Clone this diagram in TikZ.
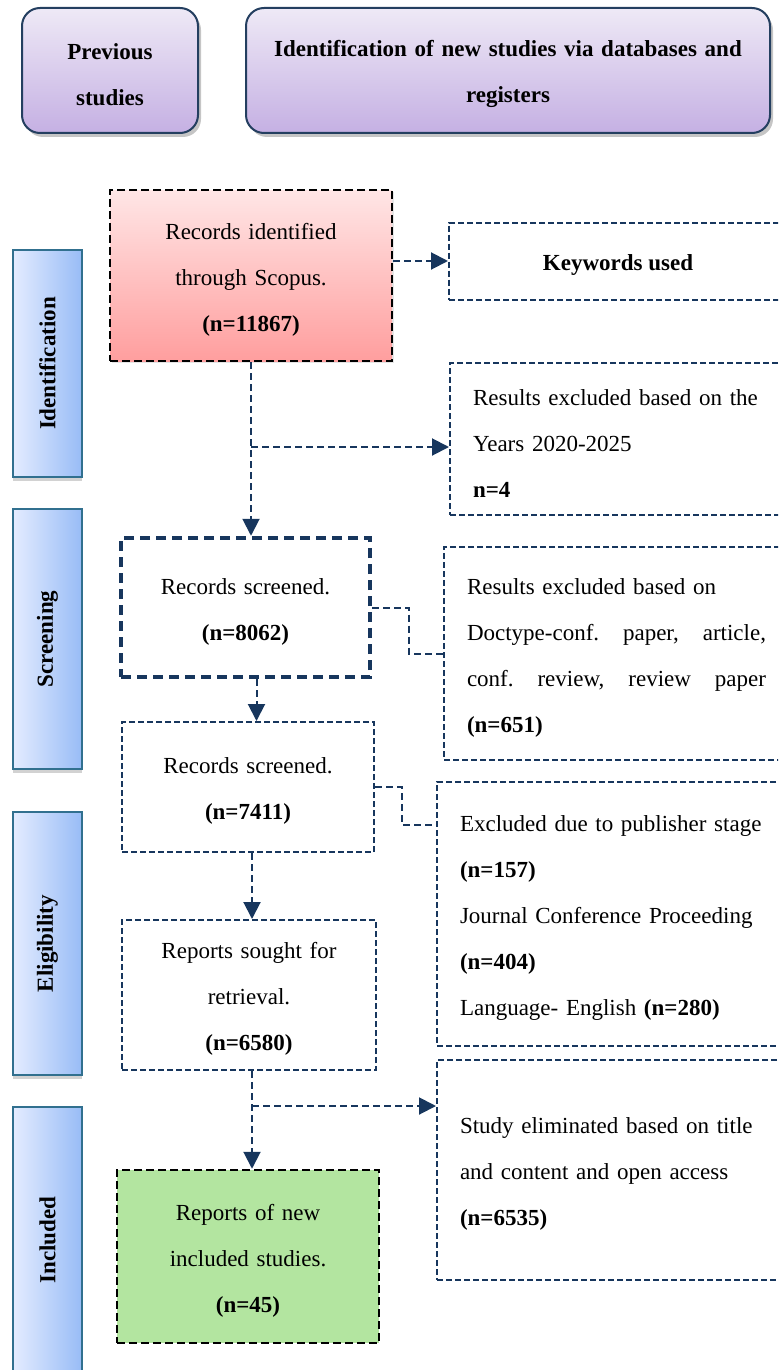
\documentclass[tikz,border=0pt]{standalone}
\usepackage{fontspec}
\setmainfont{Liberation Serif}
\usetikzlibrary{arrows.meta,shadows}
\definecolor{navy}{HTML}{17365D}
\definecolor{barline}{HTML}{31708F}
\definecolor{barleft}{HTML}{E4ECFF}
\definecolor{barright}{HTML}{98BCF6}
\definecolor{headline}{HTML}{243F60}
\definecolor{headtop}{HTML}{EEE9F6}
\definecolor{headbot}{HTML}{C5B0E3}
\definecolor{srctop}{HTML}{FFE6E6}
\definecolor{srcbot}{HTML}{FF9E9E}
\definecolor{keptfill}{HTML}{B3E5A0}
\begin{document}
\begin{tikzpicture}[x=0.5pt,y=-0.5pt]
\tikzset{ every node/.style={font={\fontsize{11.5}{23}\selectfont}, inner sep=0pt, align=center}}
\tikzstyle{lower}=[execute at begin node={\rule{0pt}{12pt}}]
\tikzstyle{head}=[lower, draw=headline, line width=1pt, rounded corners=9pt, top color=headtop, bottom color=headbot, font={\bfseries\fontsize{11.5}{23}\selectfont}, minimum height=62.5pt, drop shadow={shadow xshift=1.5pt, shadow yshift=-2pt, fill=black!45}]
\tikzstyle{phase}=[draw=barline, line width=1pt, rotate=90, left color=barleft, right color=barright, font={\bfseries\fontsize{11.5}{23}\selectfont}, minimum height=34.5pt, drop shadow={shadow xshift=0pt, shadow yshift=-2pt, fill=black!35}]
\tikzstyle{box}=[lower, draw=navy, line width=1pt, dash pattern=on 3pt off 1.5pt, fill=white]
\tikzstyle{bigbox}=[box, line width=2.25pt, dash pattern=on 5pt off 3pt]
\tikzstyle{note}=[box, anchor=west, align=left, inner xsep=11.5pt]
\tikzstyle{src}=[lower, draw=black, line width=1.25pt, dash pattern=on 4pt off 2pt, top color=srctop, bottom color=srcbot, drop shadow={shadow xshift=1pt, shadow yshift=-1pt, fill=black!20}]
\tikzstyle{kept}=[lower, draw=black, line width=1.25pt, dash pattern=on 4pt off 2pt, fill=keptfill]
\tikzstyle{link}=[draw=navy, line width=1pt, dash pattern=on 3.5pt off 2pt]
\tikzstyle{arr}=[link, -{Triangle[length=8.5pt,width=8.5pt]}]
\useasboundingbox (0,0) rectangle (778,1370);
\clip (0,0) rectangle (778,1370);
% headers
\node[head, text width=88pt] (prev) at (110,70.5) {Previous\\studies};
\node[head, text width=262pt] (newst) at (508,70.5) {Identification of new studies via databases and\\registers};
% phases
\node[phase, minimum width=113.5pt] (idph) at (47.5,363.5) {Identification};
\node[phase, minimum width=130pt] (scph) at (47.5,639) {Screening};
\node[phase, minimum width=131.5pt] (elph) at (47.5,943.5) {Eligibility};
\node[phase, minimum width=133pt] (inph) at (47.5,1240) {Included};
% boxes
\node[src, text width=141pt, minimum height=85.5pt] (rec) at (251,275.5) {Records identified\\through Scopus.\\\textbf{(n=11867)}};
\node[box, minimum width=169pt, minimum height=38.5pt, font={\bfseries\fontsize{11.5}{23}\selectfont}] (kw) at (618,261) {Keywords used};
\node[note, text width=151.5pt, minimum height=76pt] (yrs) at (449,439) {Results excluded based on the\\Years 2020-2025\\\textbf{n=4}};
\node[bigbox, text width=124.5pt, minimum height=69.5pt] (scr1) at (245.5,607.5) {Records screened.\\\textbf{(n=8062)}};
\node[note, text width=149.5pt, minimum height=106.5pt] (doc) at (443,653.5) {Results excluded based on\\Doctype-conf.\hfill paper,\hfill article,\\conf.\hfill review,\hfill review\hfill paper\\\textbf{(n=651)}};
\node[box, text width=126pt, minimum height=65pt] (scr2) at (248,787) {Records screened.\\\textbf{(n=7411)}};
\node[note, text width=160pt, minimum height=132pt] (pub) at (436,914) {Excluded due to publisher stage\\\textbf{(n=157)}\\Journal Conference Proceeding\\\textbf{(n=404)}\\Language- English \textbf{(n=280)}};
\node[box, text width=127pt, minimum height=75pt] (rep) at (249,995) {Reports sought for\\retrieval.\\\textbf{(n=6580)}};
\node[note, text width=160pt, minimum height=110pt] (elim) at (436,1170) {Study eliminated based on title\\and content and open access\\\textbf{(n=6535)}};
\node[kept, text width=131pt, minimum height=86.5pt] (incl) at (248,1256.5) {Reports of new\\included studies.\\\textbf{(n=45)}};
% edges
\draw[arr] (rec.east |- kw.west) -- (kw.west);
\draw[arr] (rec.south) -- (rec.south |- scr1.north);
\coordinate (b1) at ([yshift=-4pt]rec.south |- yrs.west);
\draw[arr] (b1) -- ([yshift=-4pt]yrs.west);
\draw[link] (scr1.east) -- ++(37,0) |- (doc.west);
\draw[arr] ([xshift=5.5pt]scr1.south) -- ([xshift=5.5pt]scr1.south |- scr2.north);
\draw[link] (scr2.east) -- ++(27,0) |- ([yshift=44.5pt]pub.west);
\draw[arr] ([xshift=2pt]scr2.south) -- ([xshift=2pt]scr2.south |- rep.north);
\draw[arr] ([xshift=1.5pt]rep.south) -- ([xshift=1.5pt]rep.south |- incl.north);
\coordinate (b2) at ([xshift=1.5pt,yshift=32pt]rep.south |- elim.west);
\draw[arr] (b2) -- ([yshift=32pt]elim.west);
\end{tikzpicture}
\end{document}
